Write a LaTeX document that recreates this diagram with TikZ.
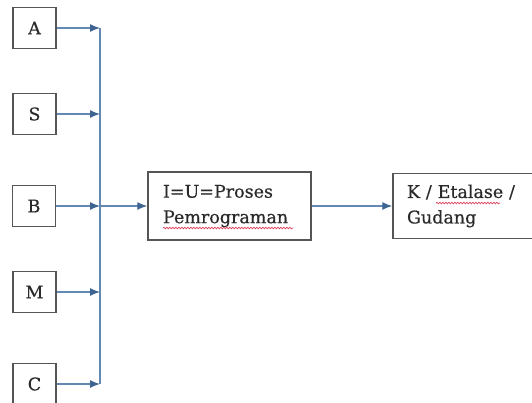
\documentclass[tikz,border=0pt]{standalone}
\usepackage{fontspec}
\setmainfont{DejaVu Serif}
\newfontfamily\diagfont[FakeBold=0.5]{DejaVu Serif}
\usetikzlibrary{arrows.meta,decorations.pathmorphing}
\definecolor{linec}{HTML}{6389B3}
\definecolor{tipc}{HTML}{3E6591}
\definecolor{boxc}{HTML}{555555}
\definecolor{txtc}{HTML}{2A2A2A}
\definecolor{spellc}{HTML}{D9405A}
\begin{document}
\begin{tikzpicture}[x=1pt,y=-1pt,
  sbox/.style={draw=boxc,line width=1.5pt,minimum width=43pt,minimum height=41pt,inner sep=0pt,
    font=\diagfont\fontsize{17.5}{25.5}\selectfont,text=txtc},
  bbox/.style={draw=boxc,line width=1.5pt,inner ysep=0pt,align=left,
    font=\diagfont\fontsize{17.5}{25.5}\selectfont,text=txtc},
  conn/.style={draw=linec,line width=1.2pt},
  arr/.style={conn,-{Latex[length=10pt,width=8pt,color=tipc]}},
  spell/.style={draw=spellc,line width=0.7pt,decorate,decoration={snake,amplitude=0.8pt,segment length=3pt}}]
\useasboundingbox (0,0) rectangle (532,402);
\coordinate (bus) at (100,0);
\node[sbox] (A) at (34.5,28) {A};
\node[sbox] (S) at (34.5,114) {S};
\node[sbox] (B) at (34,206) {B};
\node[sbox] (M) at (34.5,292) {M};
\node[sbox] (C) at (34.5,384) {C};
\node[bbox,text width=133pt,inner xsep=15pt,minimum height=68pt] (P) at (229.5,206)
  {I=U=Proses\\Pemrograman};
\node[bbox,text width=124pt,inner xsep=14pt,minimum height=65pt] (K) at (469,206)
  {K / Etalase /\\Gudang};
\draw[conn] (A -| bus) -- (C -| bus);
\foreach \n in {A,S,B,M,C} \draw[arr] (\n) -- (\n -| bus);
\draw[arr] (B -| bus) -- (P);
\draw[arr] (P) -- (K);
\draw[spell] (163,228) -- (293,228);
\draw[spell] (436,203) -- (500,203);
\end{tikzpicture}
\end{document}
